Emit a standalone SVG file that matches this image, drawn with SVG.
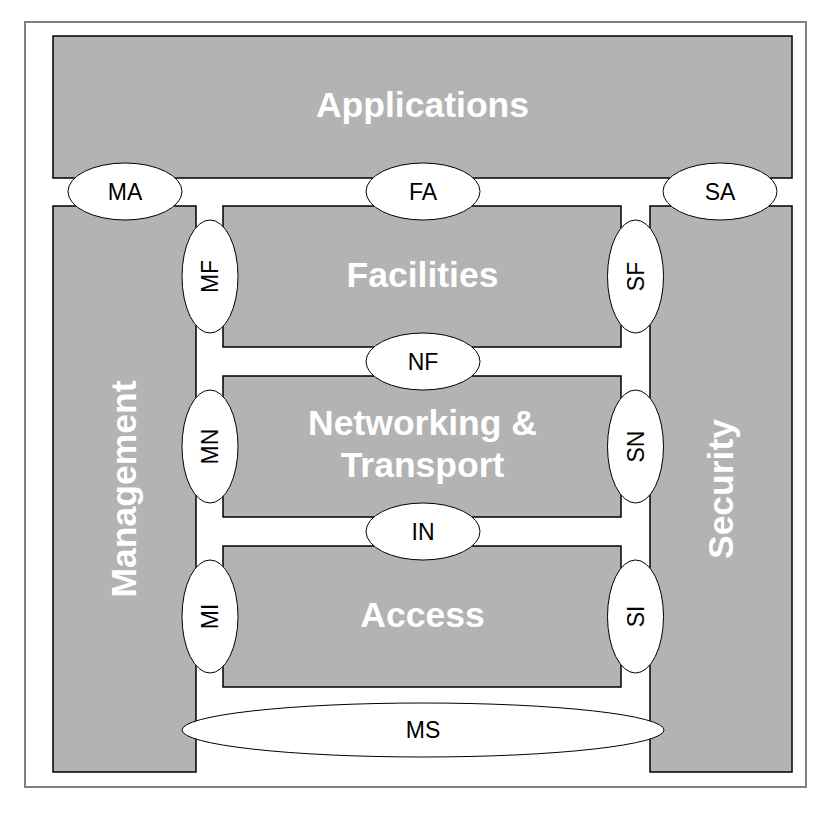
<svg xmlns="http://www.w3.org/2000/svg" width="837" height="816" viewBox="0 0 837 816">
<style>
.blk{fill:#b3b3b3;stroke:#000;stroke-width:1.5}
.big{font-family:"Liberation Sans",Arial,sans-serif;font-weight:bold;font-size:35.5px;fill:#fff;text-anchor:middle}
.ifc{fill:#fff;stroke:#000;stroke-width:1}
.sm{font-family:"Liberation Sans",Arial,sans-serif;font-size:23px;fill:#000;text-anchor:middle}
</style>
<rect x="25" y="22" width="781" height="765" fill="#fff" stroke="#808080" stroke-width="2"/>
<g id="applications"><rect class="blk" x="53" y="36" width="739" height="142"/><text class="big" x="422.5" y="117">Applications</text></g>
<g id="management"><rect class="blk" x="53" y="206" width="143" height="566"/><text class="big" transform="translate(136,489) rotate(-90)">Management</text></g>
<g id="security"><rect class="blk" x="650" y="206" width="142" height="566"/><text class="big" transform="translate(733,489) rotate(-90)">Security</text></g>
<g id="facilities"><rect class="blk" x="223" y="206" width="398" height="141"/><text class="big" x="422.5" y="287">Facilities</text></g>
<g id="networking"><rect class="blk" x="223" y="376" width="398" height="141"/><text class="big" x="422.5" y="435">Networking &amp;</text><text class="big" x="422.5" y="477">Transport</text></g>
<g id="access"><rect class="blk" x="223" y="546" width="398" height="141"/><text class="big" x="422.5" y="627">Access</text></g>
<g id="connectors"></g>
<g id="MA"><ellipse class="ifc" cx="125" cy="191.5" rx="57" ry="28.5"/><text class="sm" x="125" y="199.5">MA</text></g>
<g id="FA"><ellipse class="ifc" cx="423" cy="191.5" rx="57" ry="28.5"/><text class="sm" x="423" y="199.5">FA</text></g>
<g id="SA"><ellipse class="ifc" cx="720" cy="191.5" rx="57" ry="28.5"/><text class="sm" x="720" y="199.5">SA</text></g>
<g id="NF"><ellipse class="ifc" cx="423" cy="361.5" rx="57" ry="28.5"/><text class="sm" x="423" y="369.5">NF</text></g>
<g id="IN"><ellipse class="ifc" cx="423" cy="531.5" rx="57" ry="28.5"/><text class="sm" x="423" y="539.5">IN</text></g>
<g id="MF"><ellipse class="ifc" cx="210" cy="276.5" rx="28" ry="56.5"/><text class="sm" transform="translate(218,276.5) rotate(-90)">MF</text></g>
<g id="MN"><ellipse class="ifc" cx="210" cy="446.5" rx="28" ry="56.5"/><text class="sm" transform="translate(218,446.5) rotate(-90)">MN</text></g>
<g id="MI"><ellipse class="ifc" cx="210" cy="616.5" rx="28" ry="56.5"/><text class="sm" transform="translate(218,616.5) rotate(-90)">MI</text></g>
<g id="SF"><ellipse class="ifc" cx="635.5" cy="276.5" rx="28" ry="56.5"/><text class="sm" transform="translate(643.5,276.5) rotate(-90)">SF</text></g>
<g id="SN"><ellipse class="ifc" cx="635.5" cy="446.5" rx="28" ry="56.5"/><text class="sm" transform="translate(643.5,446.5) rotate(-90)">SN</text></g>
<g id="SI"><ellipse class="ifc" cx="635.5" cy="616.5" rx="28" ry="56.5"/><text class="sm" transform="translate(643.5,616.5) rotate(-90)">SI</text></g>
<g id="MS"><ellipse class="ifc" cx="423" cy="730" rx="241" ry="27"/><text class="sm" x="423" y="738">MS</text></g>
</svg>
